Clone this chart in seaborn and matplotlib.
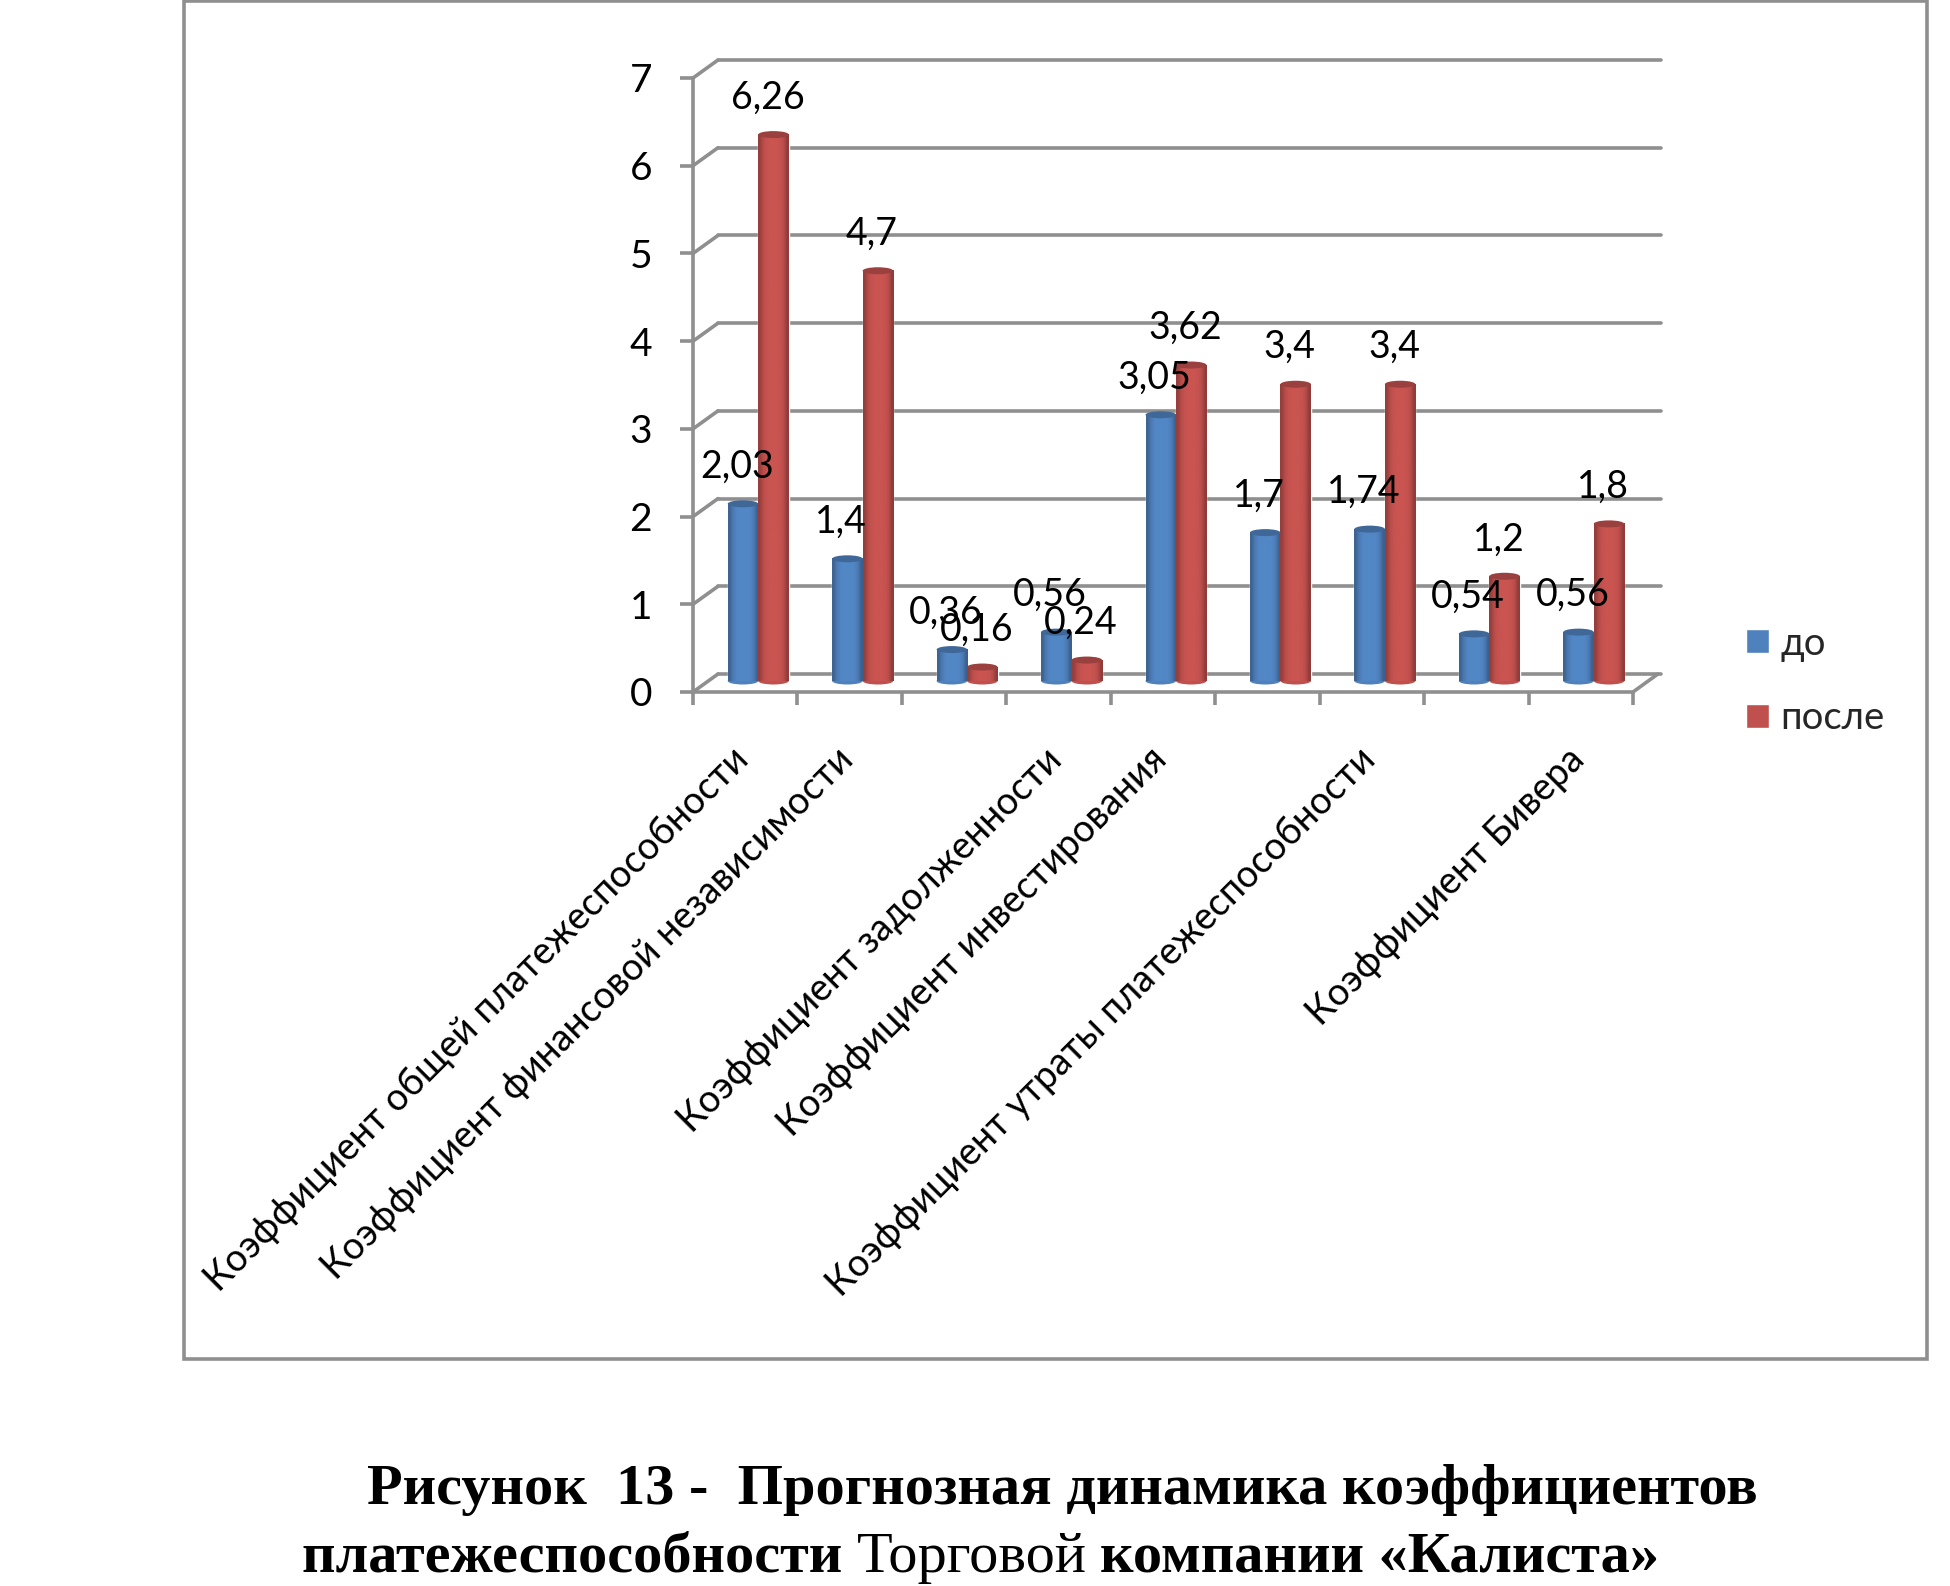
import numpy as np
import pandas as pd
import matplotlib
matplotlib.use("Agg")
import matplotlib.pyplot as plt
from matplotlib.patches import Ellipse, Rectangle, ConnectionPatch
from matplotlib.colors import to_rgb
import seaborn as sns

tick_labels = ["Коэффициент общей платежеспособности",
               "Коэффициент финансовой независимости",
               "",
               "Коэффициент задолженности",
               "Коэффициент инвестирования",
               "",
               "Коэффициент утраты платежеспособности",
               "",
               "Коэффициент Бивера"]
before = [2.03, 1.4, 0.36, 0.56, 3.05, 1.7, 1.74, 0.54, 0.56]
after = [6.26, 4.7, 0.16, 0.24, 3.62, 3.4, 3.4, 1.2, 1.8]
series_names = ["до", "после"]
y_ticks = [0, 1, 2, 3, 4, 5, 6, 7]

W, H = 1950, 1586
GRID = "#8f8f8f"
BLUE, RED = "#4f81bd", "#c0504d"

sns.set_theme(style="white")
plt.rcParams["font.family"] = ["Lato", "DejaVu Sans"]

fig = plt.figure(figsize=(W / 100, H / 100), dpi=100, facecolor="white")

def place(l, r, top, bottom):
    return [l / W, 1 - bottom / H, (r - l) / W, (bottom - top) / H]

L, R, T, B = 693, 1633, 78, 692
DX, DY = 25, 18
BX = 13
BAR_BASE, BAR_TOP = 681, 70

back = fig.add_axes(place(L + DX, R + DX + 3, T - DY, B - DY), zorder=0)
ax = fig.add_axes(place(L, R, T, B), zorder=1)
bars = fig.add_axes(place(L + BX, R + BX, BAR_TOP, BAR_BASE), zorder=2)

for a in (back, ax, bars):
    a.patch.set_alpha(0)
    a.set_xlim(-0.5, 8.5)
    a.set_ylim(0, 7)

# frame
fig.add_artist(Rectangle((184 / W, 1 - 1359 / H), (1927 - 184) / W, (1359 - 1) / H,
                         transform=fig.transFigure, fill=False, edgecolor=GRID, linewidth=2.6))

# back wall
back.set_xticks([])
back.set_yticks(y_ticks)
back.set_yticklabels([])
back.tick_params(left=False)
back.grid(axis="y", color=GRID, linewidth=2.6)
back.set_axisbelow(True)
for g in back.get_ygridlines():
    g.set_clip_on(False)
for s in back.spines.values():
    s.set_visible(False)

# front axes
for s in ("top", "right"):
    ax.spines[s].set_visible(False)
for s in ("left", "bottom"):
    ax.spines[s].set_color(GRID)
    ax.spines[s].set_linewidth(2.6)
ax.set_yticks(y_ticks)
ax.set_xticks(np.arange(-0.5, 9.0, 1))
ax.set_xticklabels([])
ax.tick_params(axis="y", length=9.5, width=2.6, color=GRID, labelsize=28, pad=20, left=True, labelcolor="black")
ax.tick_params(axis="x", length=9, width=2.6, color=GRID, bottom=True)

for k in y_ticks:
    fig.add_artist(ConnectionPatch((-0.5, k), (-0.5, k), coordsA=ax.transData, coordsB=back.transData,
                                   color=GRID, linewidth=2.6))
fig.add_artist(ConnectionPatch((8.5, 0), (8.47, 0), coordsA=ax.transData, coordsB=back.transData,
                               color=GRID, linewidth=2.6))

# category labels
for i, lab in enumerate(tick_labels):
    if lab:
        ax.annotate(lab, (i, 0), xytext=(-2, -62), textcoords="offset pixels",
                    rotation=45, rotation_mode="anchor", ha="right", va="center",
                    fontsize=27, color="black", annotation_clip=False)

# bars
df = pd.DataFrame({
    "pos": list(range(9)) * 2,
    "value": before + after,
    "series": [series_names[0]] * 9 + [series_names[1]] * 9,
})
sns.barplot(data=df, x="pos", y="value", hue="series", palette=[BLUE, RED], width=0.584,
            gap=0, saturation=1, ax=bars)

def shade(base):
    c = np.array(to_rgb(base))
    profile = np.array([0.78, 0.95, 1.03, 1.05, 1.05, 1.05, 1.03, 0.95, 0.75])
    return np.clip(profile[:, None] * c, 0, 1)[None, :, :]

cap_h = 7 / ((BAR_BASE - BAR_TOP) / 7)
for container, base in zip(bars.containers, [BLUE, RED]):
    cap_col = np.array(to_rgb(base)) * 0.8
    for rect in container:
        x0, w, h = rect.get_x(), rect.get_width(), rect.get_height()
        xc = x0 + w / 2
        bars.add_patch(Ellipse((xc, 0), w, cap_h, facecolor=base, edgecolor="none", zorder=3, clip_on=False))
        bars.imshow(shade(base), extent=[x0, x0 + w, 0, h], aspect="auto", interpolation="bilinear",
                    zorder=3.5, clip_on=False)
        bars.add_patch(Ellipse((xc, h), w, cap_h, facecolor=cap_col, edgecolor="none", zorder=4, clip_on=False))
        txt = f"{h:g}".replace(".", ",")
        bars.annotate(txt, (xc, h), xytext=(-6, 37), textcoords="offset pixels", ha="center", va="center",
                      fontsize=27, color="black", zorder=10, annotation_clip=False)
bars.set_xlim(-0.5, 8.5)
bars.set_ylim(0, 7)
bars.set_xlabel("")
bars.set_ylabel("")
bars.set_xticks([])
bars.set_yticks([])
for s in bars.spines.values():
    s.set_visible(False)
sns.move_legend(bars, loc="center left", bbox_to_anchor=(1746 / W, 1 - 681 / H),
                bbox_transform=fig.transFigure, title=None, frameon=False, fontsize=27.5,
                handlelength=0.6, handleheight=0.6, labelspacing=1.02, handletextpad=0.3,
                borderpad=0, borderaxespad=0)

# caption
serif = "Liberation Serif"
renderer = fig.canvas.get_renderer()
fig.text(367 / W, 1 - 1504 / H, "Рисунок  13 -  Прогнозная динамика коэффициентов",
         fontsize=42, fontweight="bold", family=serif, va="baseline", color="black")
x = 302
for part, wt in [("платежеспособности ", "bold"), ("Торговой ", "normal"), ("компании «Калиста»", "bold")]:
    t = fig.text(x / W, 1 - 1572 / H, part, fontsize=42, fontweight=wt, family=serif,
                 va="baseline", color="black")
    x = t.get_window_extent(renderer).x1

fig.savefig("out.png", dpi=100, facecolor="white")
